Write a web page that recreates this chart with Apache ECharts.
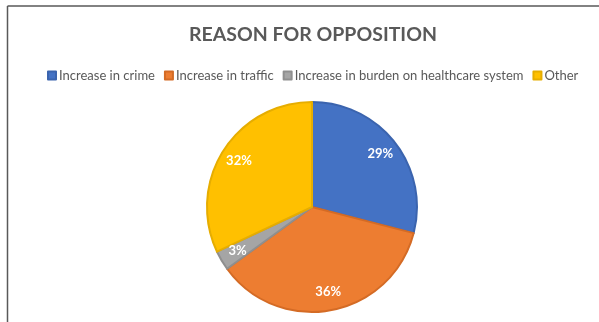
<!DOCTYPE html>
<html>
<head>
<meta charset="utf-8">
<script src="https://cdn.jsdelivr.net/npm/echarts@6/dist/echarts.min.js"></script>
<style>
  html, body { margin: 0; padding: 0; background: #fff; }
  #chart { width: 599px; height: 322px; }
</style>
</head>
<body>
<div id="chart"></div>
<script>
// Reasons given for opposing, share of responses (%)
const categories = ['Increase in crime', 'Increase in traffic', 'Increase in burden on healthcare system', 'Other'];
const shares = [29, 36, 3, 32];
const colors = ['#4472C4', '#ED7D31', '#A5A5A5', '#FFC000'];
const edgeColors = ['#3b64ae', '#d46b25', '#8f8f8f', '#e6ad00'];

const pieData = categories.map((name, i) => ({
  name: name,
  value: shares[i],
  itemStyle: { color: colors[i], borderColor: edgeColors[i], borderWidth: 2 }
}));

// transparent ring used only to place the percentage labels further out
const labelData = categories.map((name, i) => ({
  name: name,
  value: shares[i],
  itemStyle: { color: 'rgba(0,0,0,0)' }
}));

const chart = echarts.init(document.getElementById('chart'), null, { renderer: 'canvas' });
const center = [312, 207];
chart.setOption({
  animation: false,
  backgroundColor: '#ffffff',
  color: colors,
  title: {
    text: 'REASON FOR OPPOSITION',
    left: 308,
    textAlign: 'center',
    top: 20,
    textStyle: { fontFamily: 'Lato', fontWeight: 'bold', fontSize: 19.5, color: '#595959' }
  },
  legend: {
    top: 64,
    left: 42,
    itemWidth: 8,
    itemHeight: 8,
    itemGap: 9,
    icon: 'rect',
    data: categories,
    textStyle: { fontFamily: 'Lato', fontSize: 13, color: '#595959', padding: [0, 0, 0, -2] }
  },
  graphic: [
    { type: 'line', shape: { x1: 7.5, y1: 6, x2: 599, y2: 6 }, style: { stroke: '#595959', lineWidth: 1.5 } },
    { type: 'line', shape: { x1: 7.5, y1: 6, x2: 7.5, y2: 322 }, style: { stroke: '#595959', lineWidth: 1.5 } }
  ],
  series: [
    {
      type: 'pie',
      center: center,
      radius: [0, 105],
      startAngle: 90,
      clockwise: true,
      silent: true,
      label: { show: false },
      labelLine: { show: false },
      data: pieData
    },
    {
      type: 'pie',
      center: center,
      radius: [62, 105],
      startAngle: 90,
      clockwise: true,
      silent: true,
      legendHoverLink: false,
      label: {
        show: true,
        position: 'inside',
        formatter: '{c}%',
        color: '#ffffff',
        fontFamily: 'Lato',
        fontWeight: 'bold',
        fontSize: 13
      },
      labelLine: { show: false },
      data: labelData
    }
  ]
});
</script>
</body>
</html>
